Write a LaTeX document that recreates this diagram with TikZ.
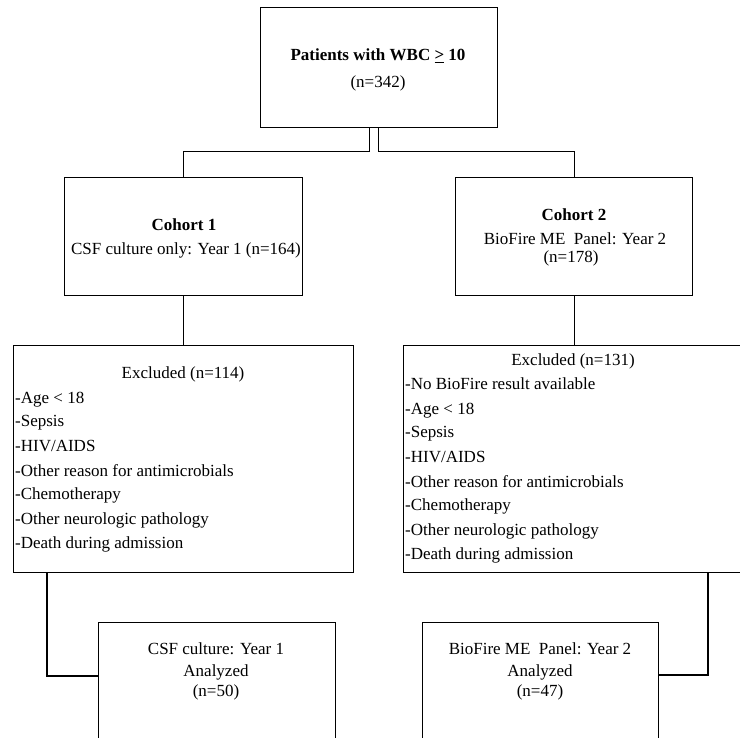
\documentclass[tikz,border=0pt]{standalone}
\usepackage{fontspec}
\setmainfont{Liberation Serif}
\begin{document}
\begin{tikzpicture}[x=1pt,y=-1pt,
  box/.style={draw=black, line width=1.3pt, fill=white, inner sep=0pt, anchor=north west},
  txt/.style={anchor=base, inner sep=0pt, font=\fontsize{17}{20}\selectfont},
  ltxt/.style={anchor=base west, inner sep=0pt, font=\fontsize{17}{20}\selectfont},
  conn/.style={draw=black, line width=1.3pt}]
\useasboundingbox (0,0) rectangle (740,738);
\clip (0,0) rectangle (740,738);
\fill[white] (0,0) rectangle (740,738);
% boxes
\node[box, minimum width=237pt, minimum height=120pt] (top) at (260,7) {};
\node[box, minimum width=238pt, minimum height=118pt] (c1) at (64,177) {};
\node[box, minimum width=237pt, minimum height=118pt] (c2) at (455,177) {};
\node[box, minimum width=340pt, minimum height=227pt] (e1) at (13,345) {};
\node[box, minimum width=360pt, minimum height=227pt] (e2) at (403,345) {};
\node[box, minimum width=237pt, minimum height=140pt] (f1) at (98,622) {};
\node[box, minimum width=236pt, minimum height=140pt] (f2) at (422,622) {};
% connectors
\draw[conn] ([xshift=-9.5pt]top.south) -- ++(0,23) -| (c1.north);
\draw[conn] ([xshift=-0.5pt]top.south) -- ++(0,23) -| (c2.north);
\draw[conn] (c1.south) -- (c1.south |- e1.north);
\draw[conn] (c2.south) -- (c2.south |- e2.north);
\draw[conn] ([xshift=34pt]e1.south west) |- ([yshift=-54pt]f1.north west);
\draw[conn] ([xshift=305pt]e2.south west) |- ([yshift=-53pt]f2.north east);
% top text
\node[txt] (t1) at (378,61) {\textbf{Patients with WBC \underline{>} 10}};
\node[txt] (t2) at (378,88) {(n=342)};
% cohort 1
\node[txt] (c1a) at (184,231) {\textbf{Cohort 1}};
\node[txt] (c1b) at (186,255) {CSF culture only: Year 1 (n=164)};
% cohort 2
\node[txt] (c2a) at (574,221) {\textbf{Cohort 2}};
\node[txt] (c2b) at (575,245) {BioFire ME\ \ Panel: Year 2};
\node[txt] (c2c) at (571,263) {(n=178)};
% excluded 1
\node[txt] (e1h) at (183,379) {Excluded (n=114)};
\node[ltxt] (e1a) at (15,403) {-Age < 18};
\node[ltxt] (e1b) at (15,427) {-Sepsis};
\node[ltxt] (e1c) at (15,451) {-HIV/AIDS};
\node[ltxt] (e1d) at (15,476) {-Other reason for antimicrobials};
\node[ltxt] (e1e) at (15,500) {-Chemotherapy};
\node[ltxt] (e1f) at (15,524) {-Other neurologic pathology};
\node[ltxt] (e1g) at (15,548) {-Death during admission};
% excluded 2
\node[txt] (e2h) at (573,366) {Excluded (n=131)};
\node[ltxt] (e2a) at (405,390) {-No BioFire result available};
\node[ltxt] (e2b) at (405,414) {-Age < 18};
\node[ltxt] (e2c) at (405,438) {-Sepsis};
\node[ltxt] (e2d) at (405,462) {-HIV/AIDS};
\node[ltxt] (e2e) at (405,487) {-Other reason for antimicrobials};
\node[ltxt] (e2f) at (405,511) {-Chemotherapy};
\node[ltxt] (e2g) at (405,535) {-Other neurologic pathology};
\node[ltxt] (e2i) at (405,559) {-Death during admission};
% final 1
\node[txt] (f1a) at (216,654) {CSF culture: Year 1};
\node[txt] (f1b) at (216,676) {Analyzed};
\node[txt] (f1c) at (216,696) {(n=50)};
% final 2
\node[txt] (f2a) at (540,654) {BioFire ME\ \ Panel: Year 2};
\node[txt] (f2b) at (540,676) {Analyzed};
\node[txt] (f2c) at (540,696) {(n=47)};
\end{tikzpicture}
\end{document}
